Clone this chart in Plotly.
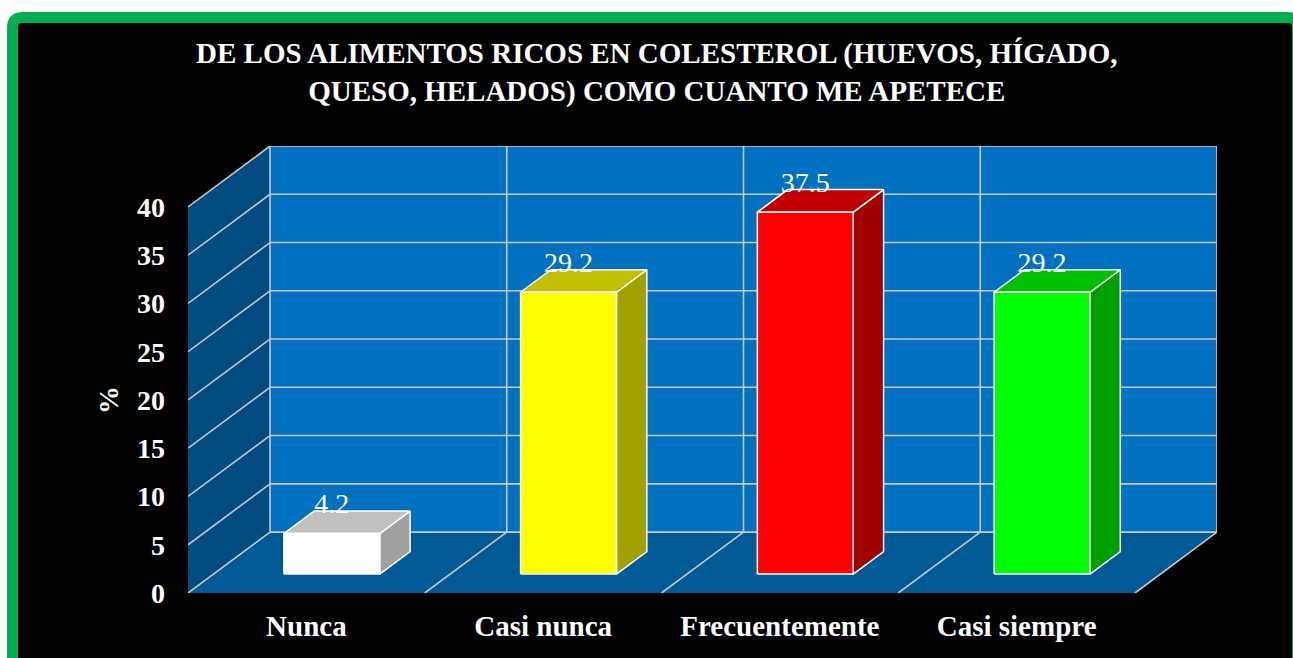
import plotly.graph_objects as go

# ---------------- data ----------------
categories = ["Nunca", "Casi nunca", "Frecuentemente", "Casi siempre"]
values = [4.2, 29.2, 37.5, 29.2]
value_labels = ["4.2", "29.2", "37.5", "29.2"]
y_ticks = [0, 5, 10, 15, 20, 25, 30, 35, 40]
title_lines = ["DE LOS ALIMENTOS RICOS EN COLESTEROL (HUEVOS, HÍGADO,",
               "QUESO, HELADOS) COMO CUANTO ME APETECE"]
y_title = "%"

# ---------------- style ----------------
front_colors = ["#FFFFFF", "#FFFF00", "#FF0000", "#00FF00"]
top_colors = ["#C0C0C0", "#C0C000", "#C00000", "#00C000"]
side_colors = ["#A0A0A0", "#A0A000", "#A00000", "#00A000"]
BACK_WALL = "#0070C0"
FLOOR = "#005A96"
SIDE_WALL = "#004B80"
GRID = "#C8C8C8"
FONT = "Liberation Serif, Times New Roman, serif"

W, H = 1293, 658
ML, MR, MT, MB = 188, 76, 146, 65
PW, PH = W - ML - MR, H - MT - MB

YMAX = 40
N = len(categories)
DX = 0.3464   # depth offset in category units
DY = 6.31     # depth offset in value units
BAR_W = 0.405
D0, D1 = 0.31, 0.68


def proj(x, v, d):
    return x + d * DX, v + d * DY


def poly(pts, fill, line_color=None, lw=0):
    xs, ys = zip(*[proj(*p) for p in pts])
    xs = list(xs) + [xs[0]]
    ys = list(ys) + [ys[0]]
    return go.Scatter(x=xs, y=ys, mode="lines", fill="toself", fillcolor=fill,
                      line=dict(color=line_color or fill, width=lw),
                      hoverinfo="skip", showlegend=False)


fig = go.Figure()

# walls
fig.add_trace(poly([(0, 0, 0), (0, 0, 1), (0, YMAX, 1), (0, YMAX, 0)], SIDE_WALL))
fig.add_trace(poly([(0, 0, 0), (N, 0, 0), (N, 0, 1), (0, 0, 1)], FLOOR))
fig.add_trace(poly([(0, 0, 1), (N, 0, 1), (N, YMAX, 1), (0, YMAX, 1)], BACK_WALL))

# grid lines
gx, gy = [], []
for v in y_ticks:
    for a, b in [((0, v, 0), (0, v, 1)), ((0, v, 1), (N, v, 1))]:
        pa, pb = proj(*a), proj(*b)
        gx += [pa[0], pb[0], None]
        gy += [pa[1], pb[1], None]
for k in range(N + 1):
    segs = [((k, 0, 1), (k, YMAX, 1))]
    if 0 < k:
        segs.append(((k, 0, 0), (k, 0, 1)))
    for a, b in segs:
        pa, pb = proj(*a), proj(*b)
        gx += [pa[0], pb[0], None]
        gy += [pa[1], pb[1], None]
fig.add_trace(go.Scatter(x=gx, y=gy, mode="lines", line=dict(color=GRID, width=1.6),
                         hoverinfo="skip", showlegend=False))

# bars
for i, v in enumerate(values):
    x0 = i + 0.5 - BAR_W / 2
    x1 = i + 0.5 + BAR_W / 2
    fig.add_trace(poly([(x1, 0, D0), (x1, 0, D1), (x1, v, D1), (x1, v, D0)],
                       side_colors[i], "#FFFFFF", 1.5))
    fig.add_trace(poly([(x0, v, D0), (x1, v, D0), (x1, v, D1), (x0, v, D1)],
                       top_colors[i], "#FFFFFF", 1.5))
    fig.add_trace(poly([(x0, 0, D0), (x1, 0, D0), (x1, v, D0), (x0, v, D0)],
                       front_colors[i], "#FFFFFF", 1.5))

# value labels
lx = [i + 0.5 + D0 * DX for i in range(N)]
ly = [v + 0.76 * DY for v in values]
fig.add_trace(go.Scatter(x=lx, y=ly, mode="text", text=value_labels,
                         textposition="middle center",
                         textfont=dict(family=FONT, size=28, color="#FFFFFF"),
                         hoverinfo="skip", showlegend=False))


def px_to_paper(px, py):
    return (px - ML) / PW, (H - MB - py) / PH


# frame (green rounded border with black fill)
fx0, fy1 = px_to_paper(12.5, 17.5)
fx1, fy0 = px_to_paper(1297.5, 720)
rx, ry = 10 / PW, 10 / PH
frame_path = (f"M {fx0},{fy0} L {fx0},{fy1 - ry} Q {fx0},{fy1} {fx0 + rx},{fy1} "
              f"L {fx1 - rx},{fy1} Q {fx1},{fy1} {fx1},{fy1 - ry} L {fx1},{fy0} Z")
fig.add_shape(type="path", path=frame_path, xref="paper", yref="paper",
              fillcolor="#000000", line=dict(color="#00B050", width=11), layer="below")

tx, ty = px_to_paper(656, 73)
fig.add_annotation(text="<br>".join(title_lines), x=tx, y=ty, xref="paper", yref="paper",
                   xanchor="center", yanchor="middle", showarrow=False,
                   font=dict(family=FONT, size=29, color="#FFFFFF", weight="bold"))
ax_, ay_ = px_to_paper(108, 400)
fig.add_annotation(text=y_title, x=ax_, y=ay_, xref="paper", yref="paper",
                   xanchor="center", yanchor="middle", showarrow=False, textangle=-90,
                   font=dict(family=FONT, size=28, color="#FFFFFF", weight="bold"))

fig.update_layout(
    width=W, height=H, autosize=False,
    margin=dict(l=ML, r=MR, t=MT, b=MB, pad=0),
    paper_bgcolor="#FFFFFF", plot_bgcolor="rgba(0,0,0,0)",
    showlegend=False,
    xaxis=dict(range=[0, N + DX], tickvals=[i + 0.5 for i in range(N)], ticktext=categories,
               showgrid=False, zeroline=False, showline=False, ticks="",
               ticklabelstandoff=13, fixedrange=True,
               tickfont=dict(family=FONT, size=29, color="#FFFFFF", weight="bold")),
    yaxis=dict(range=[0, YMAX + DY], tickvals=y_ticks, ticktext=[str(t) for t in y_ticks],
               showgrid=False, zeroline=False, showline=False, ticks="",
               ticklabelstandoff=22, fixedrange=True,
               tickfont=dict(family=FONT, size=28, color="#FFFFFF", weight="bold")),
)

fig.write_html("out.html", config={"displayModeBar": False},
               post_script="document.body.style.margin='0';document.body.style.overflow='hidden';")
